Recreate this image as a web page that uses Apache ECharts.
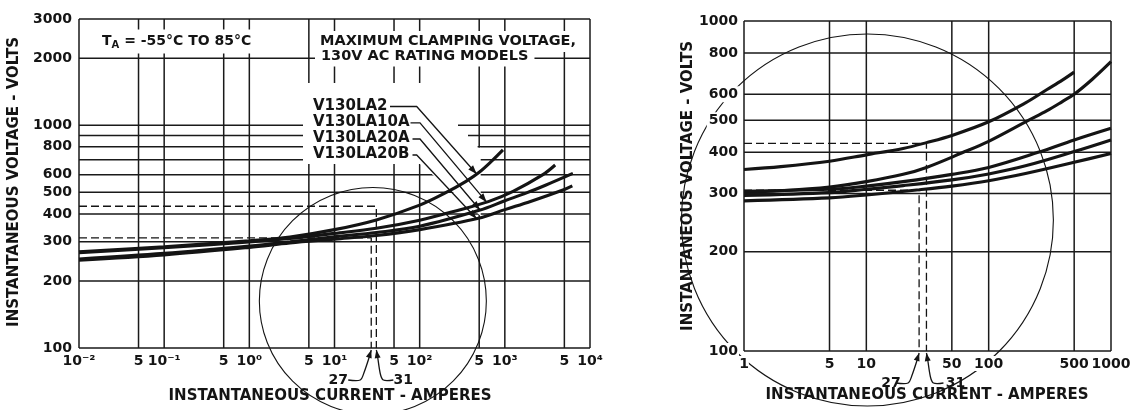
<!DOCTYPE html>
<html>
<head>
<meta charset="utf-8">
<script src="https://cdn.jsdelivr.net/npm/echarts@6.0.0/dist/echarts.min.js"></script>
<style>
html,body{margin:0;padding:0;background:#fff;}
#chart{width:1136px;height:410px;}
</style>
</head>
<body>
<div id="chart"></div>
<script>
// ---------------- data ----------------
const leftXTicks  = [0.01, 0.05, 0.1, 0.5, 1, 5, 10, 50, 100, 500, 1000, 5000, 10000];
const leftXLabels = ['10⁻²','5','10⁻¹','5','10⁰','5','10¹','5','10²','5','10³','5','10⁴'];
const leftYTicks  = [100, 200, 300, 400, 500, 600, 800, 1000, 2000, 3000];
const leftYGrid   = [100, 200, 300, 400, 500, 600, 700, 800, 900, 1000, 2000, 3000];
const leftXGrid   = [0.01, 0.05, 0.1, 0.5, 1, 5, 10, 50, 100, 500, 1000, 5000, 10000];

const rightXTicks  = [1, 5, 10, 50, 100, 500, 1000];
const rightXLabels = ['1','5','10','50','100','500','1000'];
const rightYTicks  = [100, 200, 300, 400, 500, 600, 800, 1000];
const rightYGrid   = [100, 200, 300, 400, 500, 600, 800, 1000];
const rightXGrid   = [1, 5, 10, 50, 100, 500, 1000];

const modelNames = ['V130LA2', 'V130LA10A', 'V130LA20A', 'V130LA20B'];
const V130LA2   = [[0.01,270],[0.1,285],[1,303],[3,315],[10,340],[31,376],[100,438],[200,497],[350,560],[500,615],[700,690],[950,775]];
const V130LA10A = [[0.01,268],[0.1,282],[1,299],[3,310],[10,327],[31,345],[100,375],[300,418],[640,454],[1250,505],[2800,600],[3900,663]];
const V130LA20A = [[0.01,251],[0.1,266],[1,287],[3,300],[10,316],[31,330],[100,352],[500,415],[1000,458],[1800,497],[3000,538],[6300,608]];
const V130LA20B = [[0.01,248],[0.1,262],[1,283],[3,296],[10,308],[31,320],[100,340],[490,382],[1000,418],[2000,455],[5000,515],[6200,534]];

const rightCurveA = [[1,355],[2,362],[5,376],[10,393],[20,411],[31,428],[50,450],[100,495],[200,565],[300,620],[400,662],[500,700]];
const rightCurveB = [[1,303],[2,306],[5,314],[10,326],[20,343],[31,360],[60,398],[100,432],[211,500],[300,535],[400,570],[500,600],[700,665],[1000,753]];
const rightCurveC = [[1,305],[5,309],[10,316],[20,326],[50,343],[100,360],[254,400],[500,436],[1000,473]];
const rightCurveD = [[1,296],[5,302],[10,309],[20,317],[50,330],[100,344],[200,364],[500,402],[1000,436]];
const rightCurveE = [[1,285],[5,291],[10,297],[27,308],[50,316],[100,328],[200,345],[500,373],[1000,397]];

const leftDashUpper  = [[0.01,433],[31,433],[31,100]];
const leftDashLower  = [[0.01,312],[27,312],[27,100]];
const rightDashUpper = [[1,426],[31,426],[31,100]];
const rightDashLower = [[1,307],[27,307],[27,100]];
const markerCurrents = [27, 31];

const yTitle = 'INSTANTANEOUS VOLTAGE - VOLTS';
const xTitle = 'INSTANTANEOUS CURRENT - AMPERES';
const tempNote = ['T', 'A', ' = -55°C TO 85°C'];
const boxLines = ['MAXIMUM CLAMPING VOLTAGE,', '130V AC RATING MODELS'];

// ---------------- chart ----------------
const FONT = 'DejaVu Sans';
const INK = '#141414';
const chart = echarts.init(document.getElementById('chart'), null, {renderer: 'canvas'});

function labelOf(ticks, labels, v) {
  const i = ticks.findIndex(t => Math.abs(Math.log10(t) - Math.log10(v)) < 1e-6);
  return i >= 0 ? labels[i] : '';
}
// keep the end ticks just inside the axis extent so rounding never drops them
function inside(ticks, min, max) {
  return ticks.map(t => Math.min(Math.max(t, min * (1 + 1e-9)), max * (1 - 1e-9)));
}
function xAxisDef(g, min, max, ticks, labels) {
  return {
    type: 'log', logBase: 10, gridIndex: g, min: min, max: max, z: 10,
    axisLine: {show: false}, axisTick: {show: false}, splitLine: {show: false},
    minorTick: {show: false}, minorSplitLine: {show: false},
    axisLabel: {
      customValues: inside(ticks, min, max), formatter: v => labelOf(ticks, labels, v),
      margin: 5, color: INK, fontFamily: FONT, fontSize: 14, fontWeight: 'bold',
      backgroundColor: '#fff', padding: [1, 0, 0, 0], hideOverlap: false,
      showMinLabel: true, showMaxLabel: true
    }
  };
}
function yAxisDef(g, min, max, ticks, margin) {
  return {
    type: 'log', logBase: 10, gridIndex: g, min: min, max: max, z: 10,
    axisLine: {show: false}, axisTick: {show: false}, splitLine: {show: false},
    minorTick: {show: false}, minorSplitLine: {show: false},
    axisLabel: {
      customValues: inside(ticks, min, max), formatter: v => String(Math.round(v)),
      margin: margin, color: INK, fontFamily: FONT, fontSize: 14, fontWeight: 'bold',
      backgroundColor: '#fff', padding: [1, 1, 1, 2], hideOverlap: false,
      showMinLabel: true, showMaxLabel: true
    }
  };
}
function gridLines(g, xs, ys) {
  const xMin = xs[0], xMax = xs[xs.length - 1], yMin = ys[0], yMax = ys[ys.length - 1];
  const data = [];
  ys.forEach(y => { data.push([xMin, y], [xMax, y], ['-', '-']); });
  xs.forEach(x => { data.push([x, yMin], [x, yMax], ['-', '-']); });
  return {
    type: 'line', xAxisIndex: g, yAxisIndex: g, data: data, symbol: 'none',
    silent: true, clip: false, connectNulls: false, z: 1,
    lineStyle: {color: '#1a1a1a', width: 1.5}
  };
}
function curve(g, name, data) {
  return {
    type: 'line', name: name, xAxisIndex: g, yAxisIndex: g, data: data,
    symbol: 'none', smooth: 0.35, silent: true, z: 5,
    lineStyle: {color: INK, width: 3.1}
  };
}
function dashed(g, data) {
  return {
    type: 'line', xAxisIndex: g, yAxisIndex: g, data: data, symbol: 'none',
    silent: true, z: 4, clip: false,
    lineStyle: {color: INK, width: 1.3, type: [8, 4]}
  };
}

const option = {
  animation: false,
  backgroundColor: '#fff',
  grid: [
    {left: 79, top: 19, width: 511, height: 329, containLabel: false, outerBoundsMode: 'none'},
    {left: 744, top: 21, width: 367, height: 330, containLabel: false, outerBoundsMode: 'none'}
  ],
  xAxis: [
    xAxisDef(0, 0.01, 10000, leftXTicks, leftXLabels),
    xAxisDef(1, 1, 1000, rightXTicks, rightXLabels)
  ],
  yAxis: [
    yAxisDef(0, 100, 3000, leftYTicks, 6),
    yAxisDef(1, 100, 1000, rightYTicks, 5)
  ],
  series: [
    gridLines(0, leftXGrid, leftYGrid),
    gridLines(1, rightXGrid, rightYGrid),
    curve(0, modelNames[0], V130LA2),
    curve(0, modelNames[1], V130LA10A),
    curve(0, modelNames[2], V130LA20A),
    curve(0, modelNames[3], V130LA20B),
    curve(1, 'A', rightCurveA),
    curve(1, 'B', rightCurveB),
    curve(1, 'C', rightCurveC),
    curve(1, 'D', rightCurveD),
    curve(1, 'E', rightCurveE),
    dashed(0, leftDashUpper), dashed(0, leftDashLower),
    dashed(1, rightDashUpper), dashed(1, rightDashLower)
  ]
};
chart.setOption(option);

// ---------------- annotations ----------------
const P = (g, x, y) => chart.convertToPixel({xAxisIndex: g, yAxisIndex: g}, [x, y]);
function interpLog(arr, x) {
  for (let i = 0; i < arr.length - 1; i++) {
    const a = arr[i], b = arr[i + 1];
    if (x >= a[0] && x <= b[0]) {
      const t = (Math.log10(x) - Math.log10(a[0])) / (Math.log10(b[0]) - Math.log10(a[0]));
      return Math.pow(10, Math.log10(a[1]) + t * (Math.log10(b[1]) - Math.log10(a[1])));
    }
  }
  return arr[arr.length - 1][1];
}
function arrowHead(tip, from, len, half) {
  const dx = tip[0] - from[0], dy = tip[1] - from[1], d = Math.hypot(dx, dy);
  const ux = dx / d, uy = dy / d, bx = tip[0] - ux * len, by = tip[1] - uy * len;
  return {type: 'polygon', z: 7, silent: true,
    shape: {points: [tip, [bx - uy * half, by + ux * half], [bx + uy * half, by - ux * half]]},
    style: {fill: INK}};
}
function pline(points, smooth) {
  return {type: 'polyline', z: 7, silent: true, shape: {points: points, smooth: smooth || 0},
    style: {stroke: INK, lineWidth: 1.3, fill: null}};
}
function txt(x, y, text, size, extra) {
  return Object.assign({type: 'text', x: x, y: y, z: 8, silent: true,
    style: Object.assign({text: text, fontFamily: FONT, fontSize: size, fontWeight: 'bold', fill: INK,
      align: 'left', verticalAlign: 'middle'}, (extra && extra.style) || {})},
    extra && extra.el || {});
}

const els = [];
// white area behind the model labels (grid lines are interrupted there in the reference)
const gx = v => P(0, v, 100)[0];
const gy = v => P(0, 1, v)[1];
const x500 = gx(500), y800 = gy(800), y900 = gy(900);
els.push({type: 'polygon', z: 2, silent: true, style: {fill: '#fff'},
  shape: {points: [[303, 83], [458, 83], [458, y900 - 6], [468, y900 - 6], [468, y800 - 5],
    [x500 - 1.6, y800 - 5], [x500 - 1.6, y800 + 0.9], [x500 + 1.5, y800 + 0.9],
    [x500 + 1.5, 216], [420, 164], [303, 164]]}});

// magnifier circles
const cL = P(0, 28.2, 162.6), cR = P(1, 10.2, 249.5);
els.push({type: 'circle', z: 6, silent: true, shape: {cx: cL[0], cy: cL[1], r: 113.5},
  style: {fill: null, stroke: INK, lineWidth: 1.1}});
els.push({type: 'circle', z: 6, silent: true, shape: {cx: cR[0], cy: cR[1], r: 186},
  style: {fill: null, stroke: INK, lineWidth: 1.1}});

// left chart notes
els.push(txt(99, 41.5, '{t|' + tempNote[0] + '}{s|' + tempNote[1] + '}{t|' + tempNote[2] + '}', 14, {style: {
  backgroundColor: '#fff', padding: [3, 3],
  rich: {t: {fontFamily: FONT, fontSize: 14, fontWeight: 'bold', fill: INK},
         s: {fontFamily: FONT, fontSize: 10, fontWeight: 'bold', fill: INK, padding: [8, 0, 0, 0]}}}}));
els.push(txt(315, 41.5, boxLines[0], 14.5, {style: {backgroundColor: '#fff', padding: [4, 4, 2, 5]}}));
els.push(txt(315, 56.5, boxLines[1], 14.5, {style: {backgroundColor: '#fff', padding: [2, 6, 3, 6]}}));

// model labels with leader arrows
const legendRows = [
  {name: modelNames[0], data: V130LA2,   y: 106,   end: 388,   elbow: 416.7, tipX: 467},
  {name: modelNames[1], data: V130LA10A, y: 122.3, end: 408.5, elbow: 420,   tipX: 612},
  {name: modelNames[2], data: V130LA20A, y: 138.5, end: 410.5, elbow: 420,   tipX: 511},
  {name: modelNames[3], data: V130LA20B, y: 154.5, end: 410.5, elbow: 416.7, tipX: 467}
];
legendRows.forEach(r => {
  els.push(txt(313, r.y, r.name, 15));
  const tip = P(0, r.tipX, interpLog(r.data, r.tipX));
  const elbow = [r.elbow, r.y + 0.5];
  els.push(pline([[r.end + 2, r.y + 0.5], elbow, tip]));
  els.push(arrowHead(tip, elbow, 9, 3.2));
});

// 27 / 31 pointers
function pointers(g, dx27, dx31) {
  const t27 = P(g, markerCurrents[0], 100), t31 = P(g, markerCurrents[1], 100);
  const a = [t27[0], t27[1] + 2], b = [t31[0], t31[1] + 2];
  const p27 = [[a[0] - 23, a[1] + 30], [a[0] - 11, a[1] + 30], [a[0] - 7, a[1] + 22], [a[0] - 1, a[1] + 4], a];
  const p31 = [[b[0] + 17, b[1] + 30], [b[0] + 7, b[1] + 30], [b[0] + 4, b[1] + 24], [b[0] + 1, b[1] + 5], b];
  els.push(pline(p27, 0.3)); els.push(arrowHead(a, p27[2], 8, 3));
  els.push(pline(p31, 0.3)); els.push(arrowHead(b, p31[2], 8, 3));
  els.push(txt(a[0] + dx27, a[1] + 30, String(markerCurrents[0]), 14, {style: {align: 'center'}}));
  els.push(txt(b[0] + dx31, b[1] + 30, String(markerCurrents[1]), 14, {style: {align: 'center'}}));
}
pointers(0, -33, 27);
pointers(1, -28, 29);

// axis titles
els.push(txt(14, 182, yTitle, 15, {style: {align: 'center'}, el: {rotation: Math.PI / 2}}));
els.push(txt(688, 186, yTitle, 15, {style: {align: 'center'}, el: {rotation: Math.PI / 2}}));
els.push(txt(330, 396.5, xTitle, 15, {style: {align: 'center'}}));
els.push(txt(927, 395, xTitle, 15, {style: {align: 'center'}}));

chart.setOption({graphic: {elements: els}});
</script>
</body>
</html>
